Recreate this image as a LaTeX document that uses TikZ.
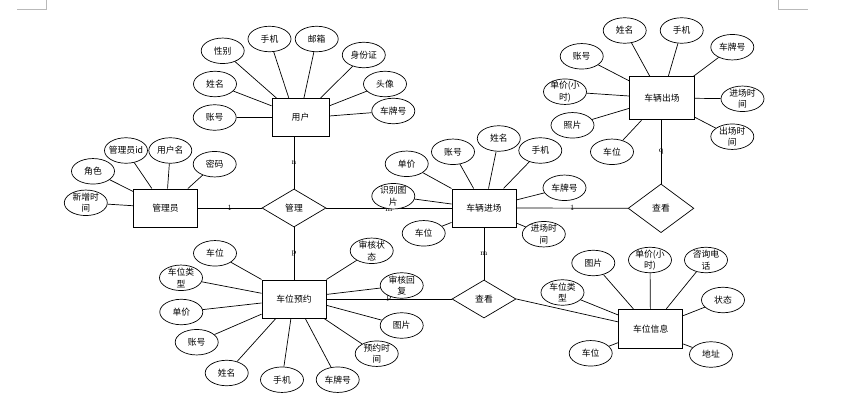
\documentclass[tikz,border=0pt]{standalone}
\usepackage{fontspec}
\newfontfamily\cn{Noto Sans CJK SC}
\usetikzlibrary{shapes.geometric}
\pgfdeclarelayer{bg}
\pgfsetlayers{bg,main}
\newcommand\attrnode[4]{\node[attr] (#1) at (#2,#3) {}; \node[attrtxt] (#1t) at (#1) {#4};}
\begin{document}
\begin{tikzpicture}[x=1pt,y=-1pt,
  ent/.style={draw, line width=1pt, fill=white, minimum width=64pt, minimum height=38pt, inner sep=0pt, font=\cn\fontsize{8.8}{11}\selectfont},
  rel/.style={diamond, draw, line width=0.7pt, fill=white, minimum width=64pt, minimum height=38pt, inner sep=0pt, font=\cn\fontsize{8.8}{11}\selectfont},
  attr/.style={ellipse, draw, line width=0.7pt, fill=white, minimum width=43pt, minimum height=25.5pt, inner sep=0pt},
  attrtxt/.style={inner sep=0pt, align=center, font=\cn\fontsize{8.8}{11.5}\selectfont},
  link/.style={draw, line width=0.7pt},
  card/.style={inner sep=0.5pt, font=\fontsize{8}{9}\selectfont}]
\useasboundingbox (0,0) rectangle (850,396);
% page corner marks
\draw[gray!55, line width=0.6pt] (17,9.3) -- (46.7,9.3) -- (46.7,0);
\draw[gray!55, line width=0.6pt] (778,0) -- (778,9.3) -- (808,9.3);
% entities
\node[ent, minimum width=57pt] (u) at (300.5,117.5) {用户};
\node[ent] (g) at (165.5,208) {管理员};
\node[ent] (r) at (484,208) {车辆进场};
\node[ent, minimum width=65pt, minimum height=43pt] (o) at (662,98.3) {车辆出场};
\node[ent] (b) at (294,299) {车位预约};
\node[ent, minimum height=39pt] (i) at (650.7,328.8) {车位信息};
% relationships
\node[rel] (m) at (294,208) {管理};
\node[rel, minimum width=65.7pt, minimum height=48.7pt] (k1) at (661,208.3) {查看};
\node[rel] (k2) at (484,299) {查看};
% attributes of 用户
\attrnode{uz}{214.7}{117.5}{账号}
\attrnode{ux}{215}{84}{姓名}
\attrnode{us}{222.7}{50.8}{性别}
\attrnode{usj}{269.5}{39}{手机}
\attrnode{uy}{316.7}{39}{邮箱}
\attrnode{ui}{363.8}{55}{身份证}
\attrnode{ut}{385}{84}{头像}
\attrnode{uc}{393.3}{111}{车牌号}
% attributes of 管理员
\attrnode{gid}{126}{150.5}{管理员id}
\attrnode{gn}{170.3}{150.5}{用户名}
\attrnode{gp}{214.7}{164.2}{密码}
\attrnode{gr}{93}{171.3}{角色}
\attrnode{gt}{85.8}{202.8}{新增时\\间}
% attributes of 车辆进场
\attrnode{rd}{406.7}{163.8}{单价}
\attrnode{rz}{453}{151.8}{账号}
\attrnode{rx}{498.8}{138.5}{姓名}
\attrnode{rs}{540.3}{150.5}{手机}
\attrnode{rc}{564.5}{187.8}{车牌号}
\attrnode{rp}{393.3}{196.2}{识别图\\片}
\attrnode{rw}{423.7}{233.3}{车位}
\attrnode{rt}{543.8}{234.2}{进场时\\间}
% attributes of 车辆出场
\attrnode{ox}{624.7}{30.5}{姓名}
\attrnode{os}{681.7}{30.5}{手机}
\attrnode{oc}{732.3}{47.2}{车牌号}
\attrnode{oj}{742.5}{98.8}{进场时\\间}
\attrnode{oe}{732.3}{136.7}{出场时\\间}
\attrnode{ow}{612}{151.8}{车位}
\attrnode{op}{572.5}{125.3}{照片}
\attrnode{od}{565}{91.7}{单价(小\\时)}
\attrnode{oz}{581.7}{56.3}{账号}
% attributes of 车位预约
\attrnode{bw}{215}{253.3}{车位}
\attrnode{bl}{181}{277.8}{车位类\\型}
\attrnode{bd}{181.3}{312}{单价}
\attrnode{bz}{196.7}{342.2}{账号}
\attrnode{bx}{226.7}{373}{姓名}
\attrnode{bs}{282}{379.7}{手机}
\attrnode{bc}{337.7}{379.7}{车牌号}
\attrnode{bt}{376.7}{353.7}{预约时\\间}
\attrnode{bp}{401.7}{325.5}{图片}
\attrnode{bh}{401.7}{285.5}{审核回\\复}
\attrnode{bk}{371.7}{250.8}{审核状\\态}
% attributes of 车位信息
\attrnode{ip}{593.3}{263}{图片}
\attrnode{id}{650}{260}{单价(小\\时)}
\attrnode{iz}{706}{260}{咨询电\\话}
\attrnode{ik}{723}{300}{状态}
\attrnode{ia}{711}{354.5}{地址}
\attrnode{iw}{590.7}{353.3}{车位}
\attrnode{il}{562.5}{292.5}{车位类\\型}
\begin{pgfonlayer}{bg}
% relationship connectors
\draw[link] (m.north) -- (m.north |- u.south) node[card, midway] (c1) {n};
\draw[link] (g.east) -- (m.west) node[card, midway] (c2) {1};
\draw[link] (m.east) -- (r.west) node[card, midway, yshift=-1.5pt] (c3) {m};
\draw[link] (m.south) -- (b.north) node[card, midway] (c4) {p};
\draw[link] (r.east) -- (k1.west) node[card, midway] (c5) {1};
\draw[link] (k1.north) -- (k1.north |- o.south) node[card, midway] (c6) {q};
\draw[link] (r.south) -- (k2.north) node[card, midway] (c7) {m};
\draw[link] (b.east) -- (k2.west) node[card, midway] (c8) {p};
\draw[link] (k2.east) -- (i.168.5);
% 用户
\draw[link] (uz) -- (u.180);
\draw[link] (ux) -- (u.158);
\draw[link] (us) -- (u.141);
\draw[link] (usj) -- (u.121);
\draw[link] (uy) -- (u.80);
\draw[link] (ui) -- (u.44.5);
\draw[link] (ut) -- (u.22);
\draw[link] (uc) -- (u.3.6);
% 管理员
\draw[link] (gid) -- (g.125);
\draw[link] (gn) -- (g.84.5);
\draw[link] (gp) -- (g.41.4);
\draw[link] (gr) -- (g.153);
\draw[link] (gt) -- (g.176);
% 车辆进场
\draw[link] (rd) -- (r.149);
\draw[link] (rz) -- (r.118);
\draw[link] (rx) -- (r.77);
\draw[link] (rs) -- (r.45);
\draw[link] (rc) -- (r.14);
\draw[link] (rp) -- (r.173);
\draw[link] (rw) -- (r.204.5);
\draw[link] (rt) -- (r.335);
% 车辆出场
\draw[link] (ox) -- (o.119);
\draw[link] (os) -- (o.74);
\draw[link] (oc) -- (o.35);
\draw[link] (oj) -- (o.0);
\draw[link] (oe) -- (o.330);
\draw[link] (ow) -- (o.227);
\draw[link] (op) -- (o.197);
\draw[link] (od) -- (o.176);
\draw[link] (oz) -- (o.152);
% 车位预约
\draw[link] (bw) -- (b.149.5);
\draw[link] (bl) -- (b.170);
\draw[link] (bd) -- (b.187.6);
\draw[link] (bz) -- (b.205);
\draw[link] (bx) -- (b.227);
\draw[link] (bs) -- (b.261);
\draw[link] (bc) -- (b.300);
\draw[link] (bt) -- (b.327);
\draw[link] (bp) -- (b.349);
\draw[link] (bh) -- (b.8.4);
\draw[link] (bk) -- (b.31);
% 车位信息
\draw[link] (ip) -- (i.131);
\draw[link] (id) -- (i.91);
\draw[link] (iz) -- (i.52);
\draw[link] (ik) -- (i.22);
\draw[link] (ia) -- (i.335.6);
\draw[link] (iw) -- (i.203.5);
\draw[link] (il) -- (i.157);
\end{pgfonlayer}
\end{tikzpicture}
\end{document}
